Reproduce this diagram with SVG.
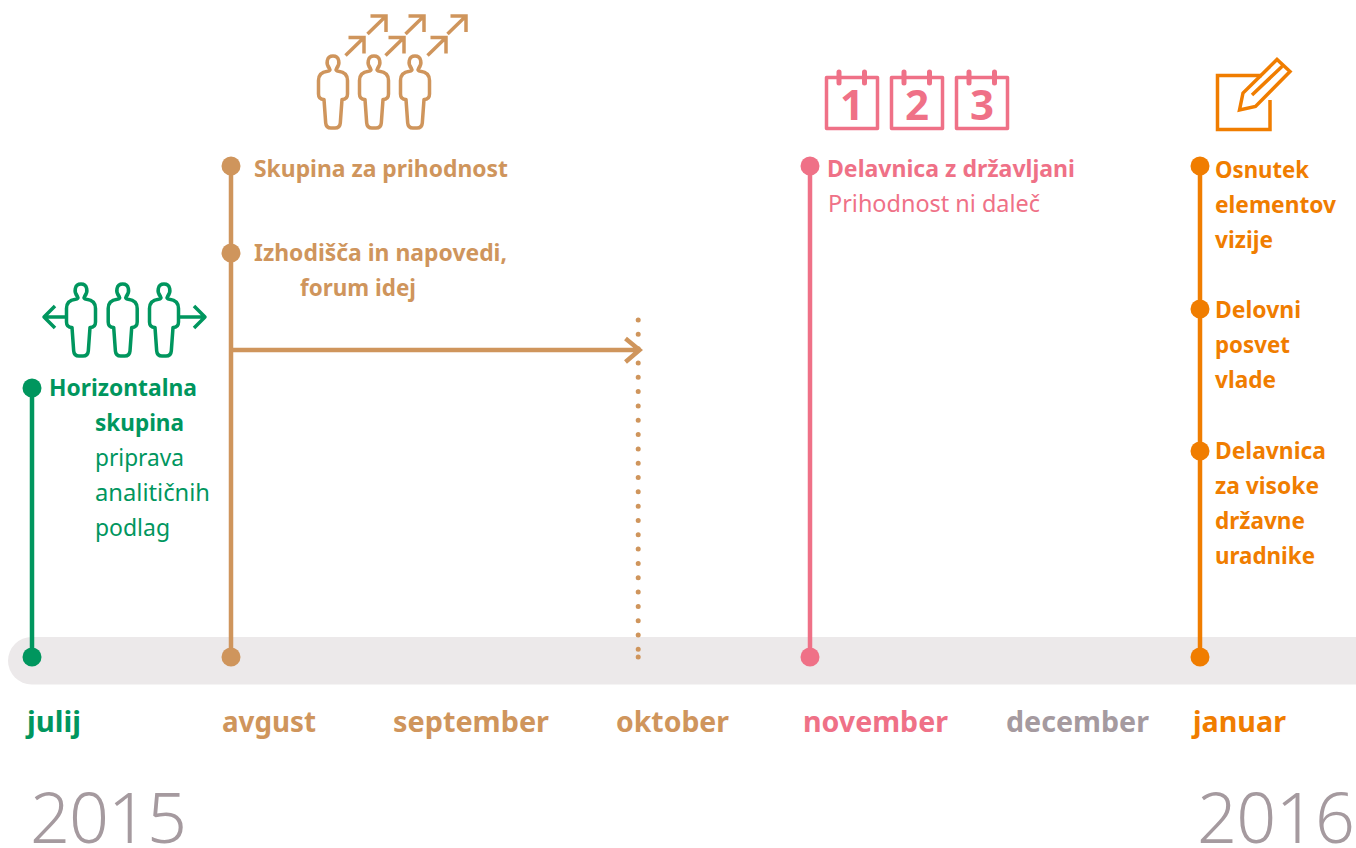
<svg xmlns="http://www.w3.org/2000/svg" width="1356" height="848" viewBox="0 0 1356 848">
<style>
text{font-family:"Noto Sans","Open Sans",sans-serif}
.b{font-size:24px;font-weight:700}
.r{font-size:24px;font-weight:400}
.m{font-size:29px;font-weight:700}
.y{font-size:70px;font-weight:300;fill:#a59a9f}
.d{font-size:42px;font-weight:700;fill:#ef7187;text-anchor:middle}
.ln{fill:none;stroke-width:4.500}
.ic{fill:none;stroke-width:3.500;stroke-linejoin:round}
.green{fill:#00965e}.brown{fill:#cf955c}.pink{fill:#ef7187}.orange{fill:#f07d00}.gray{fill:#a59a9f}
.sg{stroke:#00965e}.sb{stroke:#cf955c}.sp{stroke:#ef7187}.so{stroke:#f07d00}
</style>
<defs>
<path id="person" d="M-3.500 13.500C-7.500 9-6.500 1 0 1C6.500 1 7.500 9 3.500 13.500C2.500 15 3.500 16 5.500 16.300C11 17 14.500 20 14.500 25.500V39C14.500 43 12 44.500 9 44.500L7.300 68C7 71.500 5.500 73 2 73H-2C-5.500 73-7 71.500-7.300 68L-9 44.500C-12 44.500-14.500 43-14.500 39V25.500C-14.500 20-11 17-5.500 16.300C-3.500 16-2.500 15-3.500 13.500Z"/>
<path id="arr" d="M0 18L18.500 0M3 0H18.500V16" stroke-linejoin="miter"/>
<g id="cal"><rect x="1.500" y="8.500" width="51" height="51"/><path d="M14 3V14M39.500 3V14" stroke-width="5" stroke-linecap="round"/></g>
</defs>
<rect id="bar" x="8" y="637" width="1400" height="47.500" rx="23.700" fill="#ece9ea"/>
<g id="connectors">
<path class="ln sg" d="M32 388V657"/>
<path class="ln sb" d="M231 166V657"/>
<path class="ln sp" d="M810 166V657"/>
<path class="ln so" d="M1200 166V657"/>
<path class="ln sb" stroke-width="5" d="M232 350H638M625.500 338.500L639.500 350L625.500 362"/>
<path fill="none" class="sb" stroke-width="5" stroke-linecap="round" stroke-dasharray="0 14.320" d="M638.200 320V650"/>
<circle class="brown" cx="638.200" cy="657" r="2.500"/>
</g>
<g id="dots">
<circle class="green" cx="32" cy="388" r="9.500"/><circle class="green" cx="32" cy="657" r="9.500"/>
<circle class="brown" cx="231" cy="166" r="9.500"/><circle class="brown" cx="231" cy="253" r="9.500"/><circle class="brown" cx="231" cy="657" r="9.500"/>
<circle class="pink" cx="810" cy="166" r="9.500"/><circle class="pink" cx="810" cy="657" r="9.500"/>
<circle class="orange" cx="1200" cy="166" r="9.500"/><circle class="orange" cx="1200" cy="309" r="9.500"/><circle class="orange" cx="1200" cy="451" r="9.500"/><circle class="orange" cx="1200" cy="657" r="9.500"/>
</g>
<g id="icon-green" class="ic sg">
<use href="#person" x="81" y="283"/><use href="#person" x="122.700" y="283"/><use href="#person" x="164" y="283"/>
<path d="M66.500 317H44M55 306L44 317L55 328M179 317H205M194 306L205 317L194 328"/>
</g>
<g id="icon-brown" class="ic sb">
<use href="#person" x="333" y="55"/><use href="#person" x="374" y="55"/><use href="#person" x="415" y="55"/>
<use href="#arr" x="345.500" y="37.500"/><use href="#arr" x="385.500" y="37.500"/><use href="#arr" x="427.500" y="37.500"/>
<use href="#arr" x="367.500" y="16"/><use href="#arr" x="405.500" y="16"/><use href="#arr" x="447.500" y="16"/>
</g>
<g id="icon-calendars" class="ic sp">
<use href="#cal" x="825" y="69"/><use href="#cal" x="890" y="69"/><use href="#cal" x="955" y="69"/>
<text class="d" x="852" y="120" stroke="none">1</text><text class="d" x="917" y="120" stroke="none">2</text><text class="d" x="982" y="120" stroke="none">3</text>
</g>
<g id="icon-pencil" class="so" fill="none" stroke-width="3.500">
<path d="M1262 75.500H1217.500V129.500H1270V100"/>
<path d="M1239.500 110L1243 93L1277 59.500L1290 71.500L1255.500 106.500Z M1252 95L1282 66.500" stroke-linejoin="miter"/>
</g>
<g id="node-julij">
<text class="b green" x="49" y="396" textLength="148" lengthAdjust="spacingAndGlyphs">Horizontalna</text>
<text class="b green" x="95" y="431" textLength="89" lengthAdjust="spacingAndGlyphs">skupina</text>
<text class="r green" x="95" y="466" textLength="89" lengthAdjust="spacingAndGlyphs">priprava</text>
<text class="r green" x="95" y="501" textLength="115" lengthAdjust="spacingAndGlyphs">analitičnih</text>
<text class="r green" x="95" y="536" textLength="75" lengthAdjust="spacingAndGlyphs">podlag</text>
</g>
<g id="node-avgust">
<text class="b brown" x="254" y="177" textLength="254" lengthAdjust="spacingAndGlyphs">Skupina za prihodnost</text>
<text class="b brown" x="254" y="261" textLength="253" lengthAdjust="spacingAndGlyphs">Izhodišča in napovedi,</text>
<text class="b brown" x="300" y="296" textLength="116" lengthAdjust="spacingAndGlyphs">forum idej</text>
</g>
<g id="node-november">
<text class="b pink" x="827" y="177" textLength="248" lengthAdjust="spacingAndGlyphs">Delavnica z državljani</text>
<text class="r pink" x="828" y="212" textLength="212" lengthAdjust="spacingAndGlyphs">Prihodnost ni daleč</text>
</g>
<g id="node-januar">
<text class="b orange" x="1215" y="178" textLength="94" lengthAdjust="spacingAndGlyphs">Osnutek</text>
<text class="b orange" x="1215" y="213" textLength="121" lengthAdjust="spacingAndGlyphs">elementov</text>
<text class="b orange" x="1215" y="248" textLength="58" lengthAdjust="spacingAndGlyphs">vizije</text>
<text class="b orange" x="1215" y="318" textLength="86" lengthAdjust="spacingAndGlyphs">Delovni</text>
<text class="b orange" x="1215" y="353" textLength="75" lengthAdjust="spacingAndGlyphs">posvet</text>
<text class="b orange" x="1215" y="388" textLength="61" lengthAdjust="spacingAndGlyphs">vlade</text>
<text class="b orange" x="1215" y="459" textLength="111" lengthAdjust="spacingAndGlyphs">Delavnica</text>
<text class="b orange" x="1215" y="494" textLength="104" lengthAdjust="spacingAndGlyphs">za visoke</text>
<text class="b orange" x="1215" y="529" textLength="90" lengthAdjust="spacingAndGlyphs">državne</text>
<text class="b orange" x="1215" y="564" textLength="100" lengthAdjust="spacingAndGlyphs">uradnike</text>
</g>
<g id="months">
<text class="m green" x="27" y="732" textLength="54" lengthAdjust="spacingAndGlyphs">julij</text>
<text class="m brown" x="222" y="732" textLength="94" lengthAdjust="spacingAndGlyphs">avgust</text>
<text class="m brown" x="393" y="732" textLength="156" lengthAdjust="spacingAndGlyphs">september</text>
<text class="m brown" x="616" y="732" textLength="113" lengthAdjust="spacingAndGlyphs">oktober</text>
<text class="m pink" x="803" y="732" textLength="145" lengthAdjust="spacingAndGlyphs">november</text>
<text class="m gray" x="1006" y="732" textLength="143" lengthAdjust="spacingAndGlyphs">december</text>
<text class="m orange" x="1193" y="732" textLength="93" lengthAdjust="spacingAndGlyphs">januar</text>
</g>
<g id="years">
<text class="y" x="30" y="843" textLength="157">2015</text>
<text class="y" x="1197" y="843" textLength="158">2016</text>
</g>
</svg>
